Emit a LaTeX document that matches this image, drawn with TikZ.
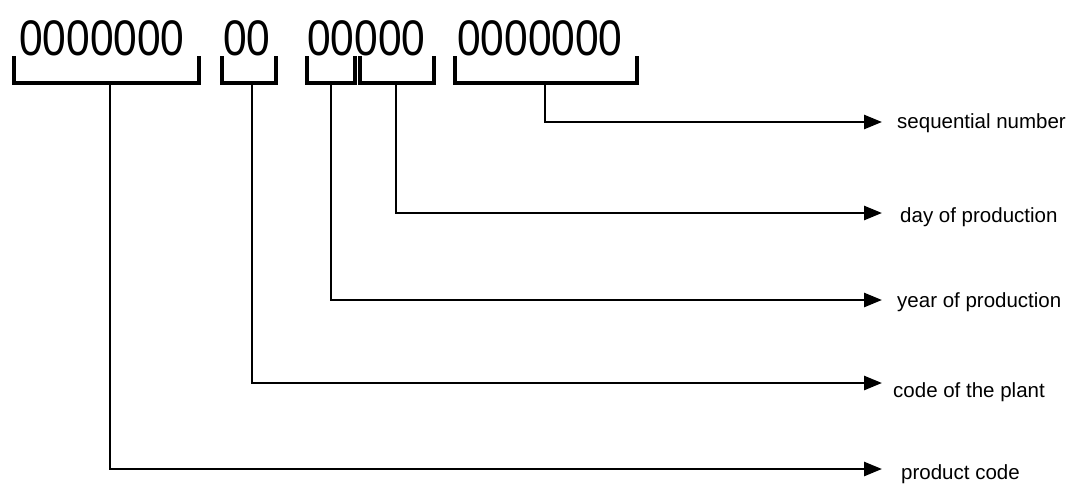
\documentclass[tikz,border=0pt]{standalone}
\usepackage{fontspec}
\setmainfont{Liberation Sans}
\usetikzlibrary{arrows.meta}
\begin{document}
\begin{tikzpicture}[x=1pt,y=-1pt,
  br/.style={line width=3.2pt,line cap=rect},
  ln/.style={line width=2.6pt},
  arr/.style={ln,-{Triangle[length=18pt,width=14pt]}},
  dig/.style={font=\fontsize{50}{50}\selectfont,xscale=0.85,inner sep=0,anchor=base west},
  lab/.style={font=\fontsize{20.5}{20.5}\selectfont,inner sep=0,anchor=west}]
\useasboundingbox (0,0) rectangle (1081,488);
\node[dig] (g1) at (19,55) {0000000};
\node[dig] (g2) at (223,55) {00};
\node[dig] (g3) at (307,55) {00000};
\node[dig] (g4) at (457,55) {0000000};
\draw[br] (14,58) |- (199,83) -- (199,58);
\draw[br] (222,58) |- (276,83) -- (276,58);
\draw[br] (307,58) |- (355,83) -- (355,58);
\draw[br] (360,58) |- (434,83) -- (434,58);
\draw[br] (455,58) |- (637,83) -- (637,58);
\coordinate (s1) at (110,83);
\coordinate (s2) at (252,83);
\coordinate (s3) at (331,83);
\coordinate (s4) at (396,83);
\coordinate (s5) at (545,83);
\node[lab] (l5) at (897,123) {sequential number};
\node[lab] (l4) at (900,217) {day of production};
\node[lab] (l3) at (897,302) {year of production};
\node[lab] (l2) at (893,392) {code of the plant};
\node[lab] (l1) at (901,474) {product code};
\coordinate (e5) at (882,122);
\coordinate (e4) at (882,213);
\coordinate (e3) at (882,300);
\coordinate (e2) at (882,383);
\coordinate (e1) at (882,469);
\draw[arr] (s5) |- (e5);
\draw[arr] (s4) |- (e4);
\draw[arr] (s3) |- (e3);
\draw[arr] (s2) |- (e2);
\draw[arr] (s1) |- (e1);
\end{tikzpicture}
\end{document}
